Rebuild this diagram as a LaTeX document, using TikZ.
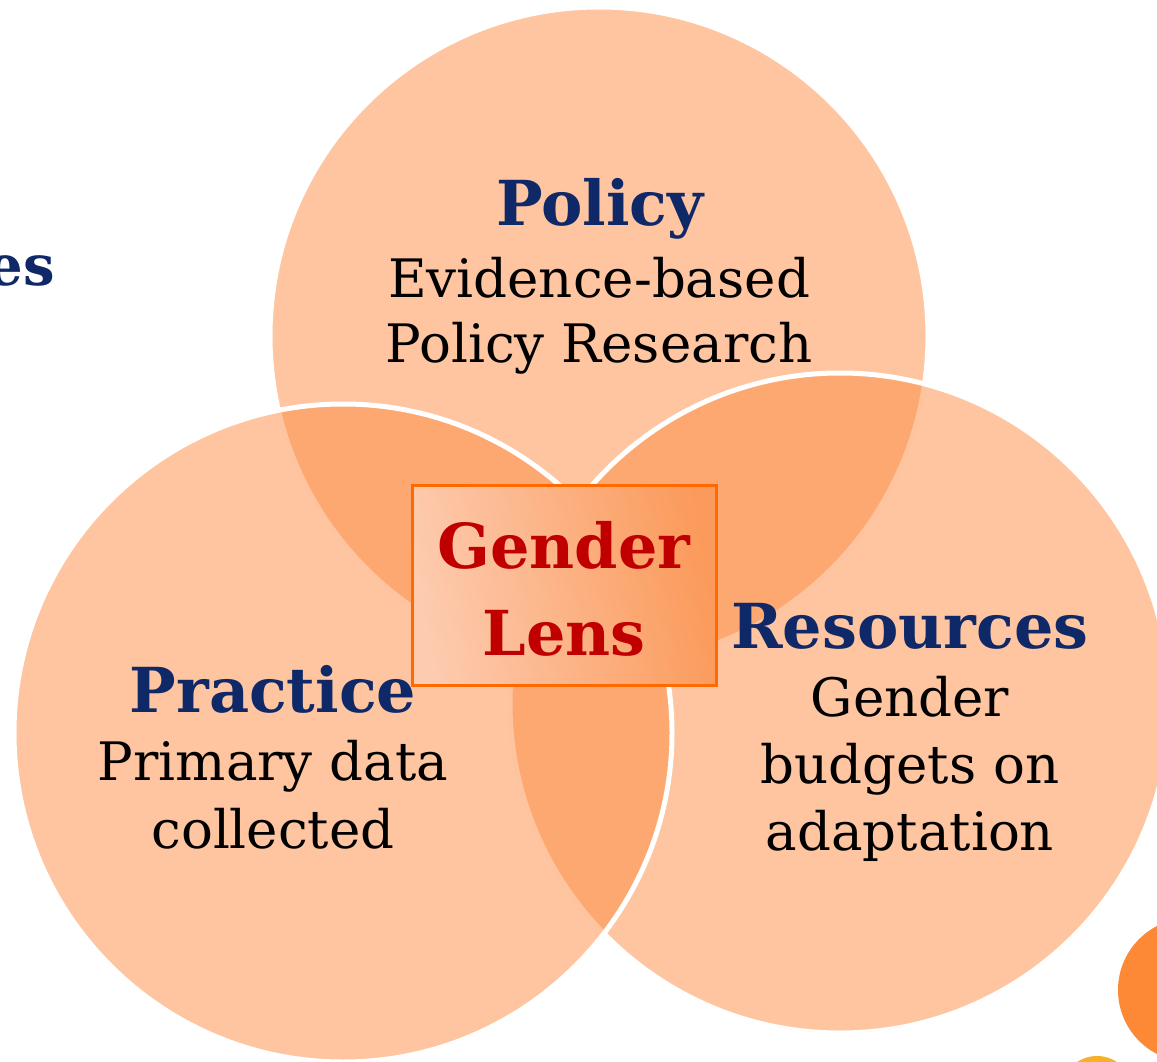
\documentclass[tikz,border=0pt]{standalone}
\usepackage{fontspec}
\setmainfont{DejaVu Serif}
\begin{document}
\begin{tikzpicture}[x=1pt,y=-1pt,
  circ/.style={fill=circfill,fill opacity=0.5,draw=white,draw opacity=1,line width=5pt},
  head/.style={font=\fontsize{62}{70}\selectfont\bfseries,text=navy,inner sep=0pt},
  body/.style={font=\fontsize{53}{66}\selectfont,text=black,inner sep=0pt},
  lens/.style={font=\fontsize{62}{86}\selectfont\bfseries,text=lensred,inner sep=0pt}]
\definecolor{circfill}{HTML}{FD8B41}
\definecolor{navy}{HTML}{0F2868}
\definecolor{lensred}{HTML}{C00000}
\definecolor{boxedge}{HTML}{FF6A00}
\definecolor{boxlight}{HTML}{FDCBAF}
\definecolor{boxdark}{HTML}{FB9A5B}
\definecolor{dotorange}{HTML}{FD8836}
\definecolor{dotyellow}{HTML}{F6B128}
\useasboundingbox (0,0) rectangle (1157,1062);
\clip (0,0) rectangle (1157,1062);
% circles
\draw[circ] (599,336) circle[radius=329];
\draw[circ] (840,703) circle[radius=330];
\draw[circ] (343,733) circle[radius=329];
% decorative dots
\fill[dotorange] (1190,990) circle[radius=72];
\fill[dotyellow] (1097,1092) circle[radius=36];
% partial text at left
\node[head,anchor=base east,font=\fontsize{56}{66}\selectfont\bfseries] (es) at (55,285) {es};
% Policy
\node[head,anchor=base] (policy) at (600,225) {Policy};
\node[body,anchor=base] (policy1) at (599,297) {Evidence-based};
\node[body,anchor=base] (policy2) at (599,362) {Policy Research};
% Practice
\node[head,anchor=base] (practice) at (273,712) {Practice};
\node[body,anchor=base] (practice1) at (273,780) {Primary data};
\node[body,anchor=base] (practice2) at (273,848) {collected};
% Resources
\node[head,anchor=base] (resources) at (910,648) {Resources};
\node[body,anchor=base] (resources1) at (910,716) {Gender};
\node[body,anchor=base] (resources2) at (910,783) {budgets on};
\node[body,anchor=base] (resources3) at (910,850) {adaptation};
% Gender lens box
\node[draw=boxedge,line width=3pt,left color=boxlight,right color=boxdark,shading angle=100,
      minimum width=304,minimum height=200,inner sep=0pt] (box) at (564,585) {};
\node[lens,anchor=base] (lens1) at (564,568) {Gender};
\node[lens,anchor=base] (lens2) at (564,655) {Lens};
\end{tikzpicture}
\end{document}
